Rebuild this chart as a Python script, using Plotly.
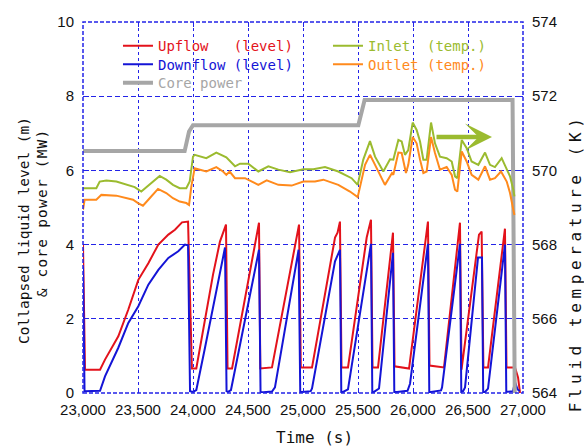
import plotly.graph_objects as go

# ---- data -------------------------------------------------------------
# Collapsed liquid level of the upflow side (m)
up_t = [23000, 23018, 23155, 23200, 23321, 23412, 23503, 23594, 23685, 23776,
        23836, 23900, 23955, 23990,
        24030, 24064, 24182, 24245, 24300, 24314,
        24355, 24600, 24612,
        24718, 24964, 24980,
        25082, 25291, 25314, 25336, 25350,
        25409, 25579, 25618, 25632,
        25682, 25818, 25832,
        25964, 26136, 26150,
        26282, 26427, 26441,
        26600, 26624, 26640,
        26682, 26836, 26850,
        26927, 26955, 26973]
up_level = [4.00, 0.63, 0.63, 0.90, 1.53, 2.25, 3.05, 3.50, 4.00, 4.27,
            4.40, 4.60, 4.62, 0.66,
            0.66, 1.22, 3.19, 4.08, 4.54, 0.66,
            0.66, 4.59, 0.66,
            0.69, 4.54, 0.69,
            0.69, 4.19, 4.32, 4.62, 0.69,
            0.69, 4.19, 4.67, 0.69,
            0.69, 4.32, 0.72,
            0.66, 4.62, 0.74,
            0.69, 4.59, 0.63,
            4.27, 4.35, 0.69,
            0.69, 4.43, 0.69,
            0.69, 0.42, 0.00]

# Collapsed liquid level of the downflow side (m)
down_t = [23000, 23014, 23155, 23200, 23321, 23412, 23503, 23594, 23685, 23776,
          23866, 23927, 23955, 23973,
          24000, 24030, 24109, 24182, 24227, 24273, 24291, 24305,
          24318, 24345, 24600, 24614,
          24640, 24718, 24745, 24960, 24975,
          24991, 25070, 25082, 25291, 25336, 25348,
          25364, 25409, 25618, 25630,
          25645, 25691, 25818, 25830,
          25855, 25950, 25973, 26136, 26148,
          26164, 26255, 26264, 26427, 26439,
          26455, 26473, 26591, 26627, 26638,
          26655, 26682, 26836, 26848,
          26909, 26927, 26950, 26970]
down_level = [3.40, 0.05, 0.06, 0.45, 1.22, 1.89, 2.34, 2.92, 3.32, 3.64,
              3.82, 4.00, 3.98, 0.05,
              0.03, 0.08, 1.22, 2.30, 3.00, 3.65, 3.92, 0.05,
              0.03, 0.08, 3.86, 0.03,
              0.02, 0.04, 0.15, 3.86, 0.03,
              0.03, 0.05, 0.12, 3.55, 3.86, 0.03,
              0.03, 0.10, 4.02, 0.03,
              0.03, 0.12, 3.78, 0.03,
              0.03, 0.06, 0.25, 4.02, 0.03,
              0.03, 0.07, 0.15, 4.02, 0.03,
              0.05, 0.15, 3.65, 3.65, 0.03,
              0.03, 0.12, 4.00, 0.03,
              0.05, 0.30, 0.10, 0.05]

# Core inlet fluid temperature (K)
inlet_t = [23000, 23121, 23152, 23212, 23303, 23394, 23470, 23530, 23606, 23697,
           23757, 23818, 23879, 23939, 23970, 24000, 24015, 24121, 24212, 24303,
           24382, 24427, 24503, 24594, 24685, 24776, 24882, 25003, 25094, 25200,
           25321, 25442, 25497, 25548, 25609, 25655, 25730, 25791, 25821, 25867,
           25897, 25927, 25957, 25997, 26033, 26064, 26094, 26124, 26164, 26200,
           26245, 26306, 26352, 26382, 26403, 26443, 26488, 26533, 26594, 26655,
           26700, 26745, 26806, 26852, 26882, 26912, 26922]
inlet_temp = [569.52, 569.52, 569.70, 569.73, 569.70, 569.61, 569.55, 569.43, 569.61, 569.85,
              569.75, 569.61, 569.52, 569.52, 569.70, 570.37, 570.42, 570.33, 570.48, 570.35,
              570.11, 570.18, 570.18, 569.97, 570.11, 570.02, 569.95, 570.03, 570.03, 570.09,
              569.97, 569.79, 569.61, 570.29, 570.79, 570.37, 569.97, 570.30, 570.29, 570.82,
              570.78, 570.42, 570.55, 571.29, 571.09, 570.78, 570.29, 570.29, 571.29, 570.73,
              570.37, 570.33, 570.24, 569.84, 569.79, 570.82, 570.60, 570.24, 570.15, 570.48,
              570.15, 570.09, 570.33, 570.06, 569.84, 569.48, 569.30]

# Core outlet fluid temperature (K)
outlet_t = [23000, 23015, 23121, 23167, 23303, 23394, 23455, 23500, 23545, 23606,
            23682, 23757, 23818, 23879, 23939, 23964, 23985, 24015, 24121, 24212,
            24273, 24303, 24333, 24382, 24473, 24594, 24670, 24776, 24897, 25003,
            25109, 25185, 25321, 25427, 25497, 25564, 25609, 25655, 25745, 25809,
            25821, 25867, 25897, 25936, 25957, 25997, 26033, 26064, 26094, 26124,
            26164, 26200, 26245, 26306, 26352, 26382, 26403, 26443, 26488, 26533,
            26594, 26655, 26700, 26745, 26800, 26852, 26882, 26912, 26922]
outlet_temp = [568.94, 569.21, 569.21, 569.34, 569.32, 569.25, 569.21, 569.12, 569.05, 569.25,
               569.50, 569.39, 569.25, 569.16, 569.12, 569.07, 569.57, 570.06, 569.97, 570.09,
               569.97, 569.88, 569.97, 569.79, 569.79, 569.61, 569.73, 569.61, 569.59, 569.70,
               569.70, 569.75, 569.61, 569.43, 569.28, 570.15, 570.42, 570.15, 569.61, 569.93,
               569.88, 570.48, 570.47, 569.93, 570.15, 570.90, 570.73, 570.29, 569.93, 569.97,
               570.90, 570.47, 570.02, 570.09, 569.88, 569.48, 569.43, 570.51, 570.24, 569.88,
               569.75, 570.11, 569.75, 569.79, 569.97, 569.70, 569.39, 568.94, 568.80]

# Core power (MW)
power_t = [23000, 23924, 23964, 24000, 25503, 25560, 26905, 26925]
power_mw = [6.52, 6.52, 7.05, 7.22, 7.22, 7.90, 7.90, 0.00]

x_ticks = [23000, 23500, 24000, 24500, 25000, 25500, 26000, 26500, 27000]
level_ticks = [0, 2, 4, 6, 8, 10]
temp_ticks = [564, 566, 568, 570, 572, 574]

# ---- styling ------------------------------------------------------------
RED = "#e3121b"
BLUE = "#1414d6"
GREEN = "#9bbb2f"
ORANGE = "#ff8a1c"
GRAY = "#a6a6a6"
GRID = "#2323e8"
MONO = "DejaVu Sans Mono, monospace"
SANS = "Liberation Sans, Arial, sans-serif"
NB = "\u00a0"


def label(text, color):
    return f"<span style='color:{color}'>{text.replace(' ', NB)}</span>"


fig = go.Figure()

fig.add_trace(go.Scatter(x=inlet_t, y=inlet_temp, yaxis="y2", mode="lines",
                         line=dict(color=GREEN, width=2), legend="legend",
                         name=label("Inlet  (temp.)", GREEN), legendrank=2))
fig.add_trace(go.Scatter(x=outlet_t, y=outlet_temp, yaxis="y2", mode="lines",
                         line=dict(color=ORANGE, width=2), legend="legend2",
                         name=label("Outlet (temp.)", ORANGE), legendrank=2))
fig.add_trace(go.Scatter(x=up_t, y=up_level, mode="lines",
                         line=dict(color=RED, width=2), legend="legend",
                         name=label("Upflow   (level)", RED), legendrank=1))
fig.add_trace(go.Scatter(x=down_t, y=down_level, mode="lines",
                         line=dict(color=BLUE, width=2), legend="legend2",
                         name=label("Downflow (level)", BLUE), legendrank=1))
fig.add_trace(go.Scatter(x=power_t, y=power_mw, mode="lines",
                         line=dict(color=GRAY, width=4), legend="legend3",
                         name=label("Core power", GRAY), legendrank=1))

# white backdrop behind the legend (hides the grid, not the curves)
for x0, x1, y0, y1 in [(0.023, 0.52, 0.79, 0.984), (0.52, 0.98, 0.838, 0.984)]:
    fig.add_shape(type="rect", xref="paper", yref="paper", x0=x0, x1=x1, y0=y0, y1=y1,
                  fillcolor="white", line=dict(width=0), layer="between")

# dashed plot frame
fig.add_shape(type="rect", xref="paper", yref="paper", x0=0, x1=1, y0=0, y1=1,
              line=dict(color=GRID, width=1.5, dash="4px,2px"), layer="above")

# trend arrow
fig.add_annotation(x=26718, y=6.90, ax=26200, ay=6.90, xref="x", yref="y",
                   axref="x", ayref="y", text="", showarrow=True,
                   arrowhead=3, arrowsize=1.0, arrowwidth=4.5, arrowcolor=GREEN)

# axis titles
title_font = dict(family=MONO, size=14.5, color="#111")
fig.add_annotation(text="Collapsed liquid level (m)", xref="paper", yref="paper",
                   x=-0.134, y=0.437, xanchor="center", yanchor="middle",
                   textangle=-90, showarrow=False, font=title_font)
fig.add_annotation(text="& core power (MW)", xref="paper", yref="paper",
                   x=-0.093, y=0.485, xanchor="center", yanchor="middle",
                   textangle=-90, showarrow=False, font=title_font)
fig.add_annotation(text="Fluid temperature (K)", xref="paper", yref="paper",
                   x=1.118, y=0.350, xanchor="center", yanchor="middle",
                   textangle=-90, showarrow=False,
                   font=dict(family=MONO, size=16, color="#111"))
fig.add_annotation(text="Time (s)", xref="paper", yref="paper",
                   x=0.527, y=-0.1186, xanchor="center", yanchor="middle",
                   showarrow=False, font=dict(family=MONO, size=16, color="#111"))

legend_row = dict(orientation="h", x=0.0795, xanchor="left", yanchor="top",
                  bgcolor="rgba(0,0,0,0)", borderwidth=0,
                  entrywidth=165, entrywidthmode="pixels",
                  font=dict(family=MONO, size=14), itemclick=False)

fig.update_layout(
    width=584, height=447,
    margin=dict(l=83, r=61, t=22, b=54, pad=0),
    paper_bgcolor="white", plot_bgcolor="white",
    showlegend=True,
    legend=dict(legend_row, y=0.978),
    legend2=dict(legend_row, y=0.928),
    legend3=dict(legend_row, y=0.878),
    xaxis=dict(range=[23000, 27000], tickvals=x_ticks, tickformat=",d",
               showgrid=True, gridcolor=GRID, griddash="dot", gridwidth=1,
               ticks="inside", ticklen=5, tickcolor=GRID, mirror="ticks",
               showline=False, zeroline=False, ticklabelstandoff=6,
               tickfont=dict(family=SANS, size=15, color="#111")),
    yaxis=dict(range=[0, 10], tickvals=level_ticks,
               showgrid=True, gridcolor=GRID, griddash="5px,3px", gridwidth=1.2,
               ticks="inside", ticklen=6, tickcolor=GRID,
               showline=False, zeroline=False, ticklabelstandoff=8,
               tickfont=dict(family=SANS, size=15, color="#111")),
    yaxis2=dict(range=[564, 574], tickvals=temp_ticks, overlaying="y", side="right",
                showgrid=False, ticks="inside", ticklen=5, tickcolor=GRID,
                showline=False, zeroline=False, ticklabelstandoff=8,
                tickfont=dict(family=SANS, size=15, color="#111")),
)

spacing_js = (
    "document.querySelectorAll('.annotation-text').forEach(function(e){"
    "var s=e.textContent;"
    "if(s.indexOf('Fluid')===0){e.style.letterSpacing='4.6px';}"
    "else if(s.indexOf('& core')===0){e.style.letterSpacing='1.2px';}"
    "});"
)
fig.write_html("out.html", post_script=spacing_js)
